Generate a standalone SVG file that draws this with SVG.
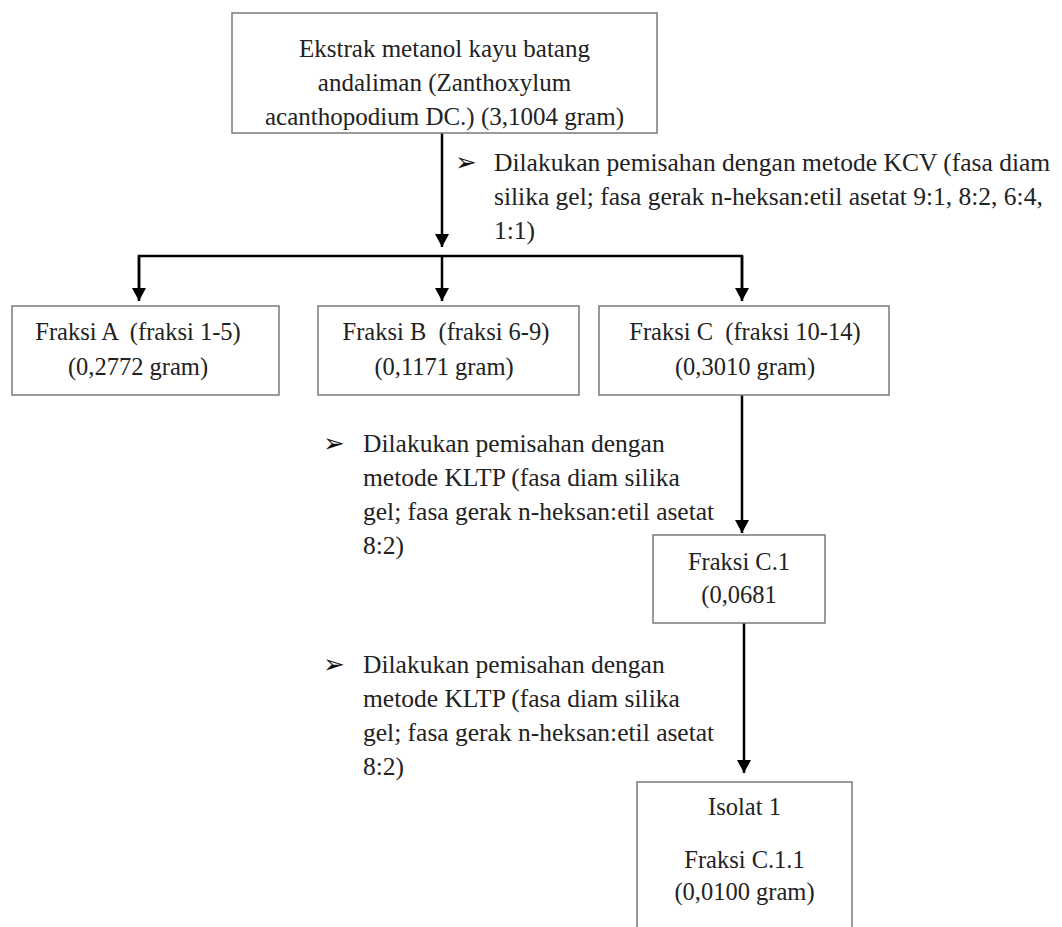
<svg xmlns="http://www.w3.org/2000/svg" width="1062" height="927" viewBox="0 0 1062 927">
<defs>
<style>
.box{fill:#fff;stroke:#7a7a7a;stroke-width:1.5}
.t{font-family:"Liberation Serif","Times New Roman",serif;font-size:24.5px;fill:#222}
.tt{font-size:25px}
.n{font-family:"Liberation Serif","Times New Roman",serif;font-size:25.5px;fill:#222}
.c{text-anchor:middle}
.b{font-family:"DejaVu Sans",sans-serif;font-size:26px;fill:#111}
.ln{stroke:#000;stroke-width:2.5;fill:none}
</style>
<marker id="ah" markerUnits="userSpaceOnUse" markerWidth="14" markerHeight="14" viewBox="0 0 14 14" refX="13" refY="7" orient="auto">
<path d="M0,0 L13,7 L0,14 Z" fill="#000"/>
</marker>
</defs>
<rect width="1062" height="927" fill="#fff"/>
<g id="connectors">
<line class="ln" x1="442" y1="133" x2="442" y2="247" marker-end="url(#ah)"/>
<polyline class="ln" points="139,290 139,256 742,256 742,290"/>
<line class="ln" x1="139" y1="256" x2="139" y2="301" marker-end="url(#ah)"/>
<line class="ln" x1="742" y1="256" x2="742" y2="301" marker-end="url(#ah)"/>
<line class="ln" x1="442" y1="256" x2="442" y2="301" marker-end="url(#ah)"/>
<line class="ln" x1="742" y1="395" x2="742" y2="533" marker-end="url(#ah)"/>
<line class="ln" x1="744" y1="623" x2="744" y2="773" marker-end="url(#ah)"/>
</g>
<g id="n-ekstrak">
<rect class="box" x="232" y="13" width="425" height="120"/>
<text class="t tt c" x="444.5" y="57">Ekstrak metanol kayu batang</text>
<text class="t tt c" x="444.5" y="91">andaliman (Zanthoxylum</text>
<text class="t tt c" x="444.5" y="125">acanthopodium DC.) (3,1004 gram)</text>
</g>
<g id="note-kcv">
<text class="b" x="455" y="171">➢</text>
<text class="n" x="494" y="171">Dilakukan pemisahan dengan metode KCV (fasa diam</text>
<text class="n" x="494" y="205">silika gel; fasa gerak n-heksan:etil asetat 9:1, 8:2, 6:4,</text>
<text class="n" x="494" y="239">1:1)</text>
</g>
<g id="n-fraksi-a">
<rect class="box" x="12" y="306" width="267" height="89"/>
<text class="t c" x="138" y="340" xml:space="preserve">Fraksi A  (fraksi 1-5)</text>
<text class="t c" x="138" y="375">(0,2772 gram)</text>
</g>
<g id="n-fraksi-b">
<rect class="box" x="318" y="306" width="261" height="89"/>
<text class="t c" x="446" y="340" xml:space="preserve">Fraksi B  (fraksi 6-9)</text>
<text class="t c" x="444" y="375">(0,1171 gram)</text>
</g>
<g id="n-fraksi-c">
<rect class="box" x="599" y="306" width="290" height="89"/>
<text class="t c" x="745" y="340" xml:space="preserve">Fraksi C  (fraksi 10-14)</text>
<text class="t c" x="745" y="375">(0,3010 gram)</text>
</g>
<g id="note-kltp-1">
<text class="b" x="323" y="452">➢</text>
<text class="n" x="363" y="452">Dilakukan pemisahan dengan</text>
<text class="n" x="363" y="486">metode KLTP (fasa diam silika</text>
<text class="n" x="363" y="520">gel; fasa gerak n-heksan:etil asetat</text>
<text class="n" x="363" y="554">8:2)</text>
</g>
<g id="n-fraksi-c1">
<rect class="box" x="653" y="535" width="172" height="88"/>
<text class="t c" x="739" y="570">Fraksi C.1</text>
<text class="t c" x="739" y="603">(0,0681</text>
</g>
<g id="note-kltp-2">
<text class="b" x="323" y="673">➢</text>
<text class="n" x="363" y="673">Dilakukan pemisahan dengan</text>
<text class="n" x="363" y="707">metode KLTP (fasa diam silika</text>
<text class="n" x="363" y="741">gel; fasa gerak n-heksan:etil asetat</text>
<text class="n" x="363" y="775">8:2)</text>
</g>
<g id="n-isolat">
<rect class="box" x="637" y="782" width="215" height="160"/>
<text class="t c" x="744.5" y="815">Isolat 1</text>
<text class="t c" x="744.5" y="868">Fraksi C.1.1</text>
<text class="t c" x="744.5" y="900">(0,0100 gram)</text>
</g>
</svg>
